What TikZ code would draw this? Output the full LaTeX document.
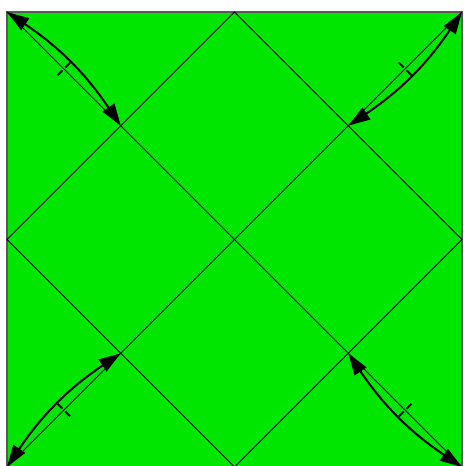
\documentclass[tikz,border=0pt]{standalone}
\usetikzlibrary{arrows.meta,calc}
\definecolor{paper}{RGB}{0,230,0}
\tikzset{
  sheet/.style={fill=paper, draw=black!65, line width=0.9pt},
  crease/.style={draw=black, line width=0.45pt},
  foldarr/.style={{Triangle[length=11pt,width=7pt]}-{Triangle[length=11pt,width=7pt]}, line width=1pt},
  tickmark/.style={line width=0.9pt},
}
\begin{document}
\begin{tikzpicture}[x=2cm,y=2cm]
\useasboundingbox (-0.0615,0.0088) rectangle (4.0088,4.1055);
\coordinate (ctl) at (0,4); \coordinate (ctr) at (4,4);
\coordinate (cbr) at (4,0); \coordinate (cbl) at (0,0);
\coordinate (mt) at (2,4); \coordinate (mr) at (4,2);
\coordinate (mb) at (2,0); \coordinate (ml) at (0,2);
\coordinate (xtl) at (1,3); \coordinate (xtr) at (3,3);
\coordinate (xbr) at (3,1); \coordinate (xbl) at (1,1);
\draw[sheet] (cbl) rectangle (ctr);
\draw[crease] (mt) -- (mr) -- (mb) -- (ml) -- cycle;
\draw[crease] (ctl) -- (cbr);
\draw[crease] (ctr) -- (cbl);
\foreach \c/\x in {ctl/xtl, ctr/xtr, cbr/xbr, cbl/xbl} {
  \draw[foldarr] (\c) to[bend left=11] (\x);
  \coordinate (half) at ($(\c)!0.5!(\x)$);
  \draw[tickmark] ($(half)!1pt!90:(\x)$) -- ($(half)!4.5pt!90:(\x)$);
  \draw[tickmark] ($(half)!1pt!-90:(\x)$) -- ($(half)!4.5pt!-90:(\x)$);
}
\end{tikzpicture}
\end{document}
